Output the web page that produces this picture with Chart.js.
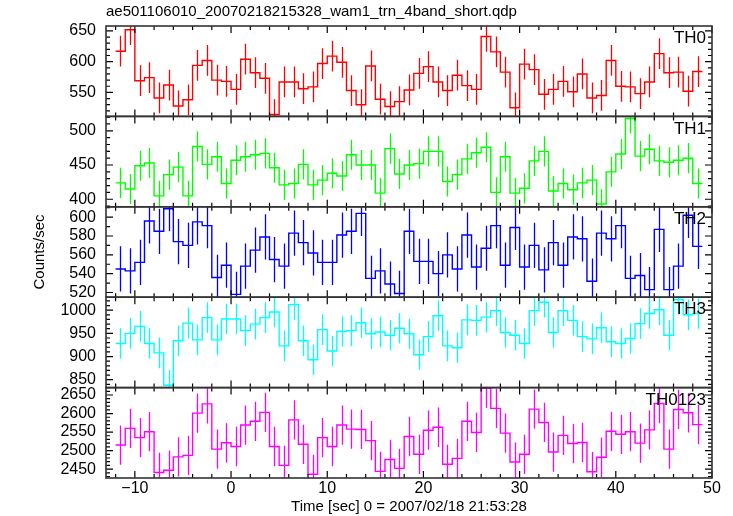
<!DOCTYPE html>
<html>
<head>
<meta charset="utf-8">
<script src="https://cdn.jsdelivr.net/npm/chart.js@4.4.1/dist/chart.umd.min.js"></script>
<style>
  html, body { margin: 0; padding: 0; background: #fff; }
  #wrap { width: 733px; height: 516px; }
</style>
</head>
<body>
<div id="wrap"><canvas id="myChart" width="733" height="516"></canvas></div>
<script>
// === データ (1秒ビンの中心時刻と各バンドのカウントレート) ===
const timeSec = [
  -11.5, -10.5, -9.5, -8.5, -7.5, -6.5, -5.5, -4.5, -3.5, -2.5, -1.5, -0.5,
  0.5, 1.5, 2.5, 3.5, 4.5, 5.5, 6.5, 7.5, 8.5, 9.5, 10.5, 11.5, 12.5, 13.5,
  14.5, 15.5, 16.5, 17.5, 18.5, 19.5, 20.5, 21.5, 22.5, 23.5, 24.5, 25.5,
  26.5, 27.5, 28.5, 29.5, 30.5, 31.5, 32.5, 33.5, 34.5, 35.5, 36.5, 37.5,
  38.5, 39.5, 40.5, 41.5, 42.5, 43.5, 44.5, 45.5, 46.5, 47.5, 48.5
];
const th0 = [
  617, 652, 569, 574, 541, 562, 528, 538, 594, 602, 570, 568, 555, 604, 582, 573,
  514, 567, 567, 556, 559, 597, 609, 599, 553, 530, 593, 539, 527, 535, 554, 581,
  592, 567, 553, 578, 561, 555, 641, 616, 583, 525, 596, 587, 547, 555, 568, 551,
  580, 541, 545, 602, 560, 559, 548, 567, 613, 582, 583, 552, 584
];
const th1 = [
  424, 415, 449, 453, 405, 436, 447, 405, 477, 451, 462, 423, 457, 462, 465, 467,
  446, 421, 423, 451, 421, 428, 438, 434, 465, 450, 450, 409, 474, 437, 450, 452,
  470, 470, 426, 436, 459, 468, 476, 410, 462, 409, 416, 456, 470, 412, 423, 414,
  424, 428, 393, 440, 466, 518, 463, 473, 456, 454, 457, 460, 423
];
const th2 = [
  545, 543, 552, 596, 585, 609, 574, 570, 595, 591, 536, 549, 518, 548, 565, 579,
  555, 548, 583, 573, 562, 552, 552, 581, 585, 604, 535, 543, 529, 519, 585, 553,
  553, 540, 560, 545, 581, 547, 567, 591, 549, 589, 547, 570, 544, 573, 549, 579,
  577, 532, 583, 577, 591, 535, 538, 523, 587, 523, 548, 602, 569
];
const th3 = [
  928, 950, 965, 928, 908, 838, 934, 972, 936, 984, 936, 981, 981, 956, 970, 984,
  996, 923, 1012, 934, 893, 958, 912, 954, 956, 973, 949, 953, 946, 961, 949, 904,
  943, 988, 923, 919, 979, 978, 985, 999, 952, 946, 928, 999, 1017, 952, 999, 978,
  943, 938, 962, 932, 928, 939, 971, 993, 1001, 946, 1023, 990, 993
];
const th0123 = [
  2515, 2560, 2535, 2551, 2441, 2447, 2483, 2487, 2601, 2626, 2504, 2521, 2511, 2569, 2579, 2603,
  2511, 2460, 2583, 2517, 2436, 2535, 2511, 2569, 2558, 2557, 2527, 2444, 2476, 2452, 2538, 2490,
  2555, 2563, 2463, 2479, 2579, 2549, 2668, 2614, 2547, 2469, 2490, 2612, 2576, 2496, 2541, 2519,
  2522, 2443, 2482, 2552, 2544, 2551, 2520, 2556, 2627, 2504, 2611, 2602, 2570
];
// 誤差 (±, 各バンドほぼ一定)
const th0Err = 25;
const th1Err = 22;
const th2Err = 24;
const th3Err = 33;
const th0123Err = 53;

// === 目盛り ===
const xTicks = [-10, 0, 10, 20, 30, 40, 50];
const th0Ticks = [550, 600, 650];
const th1Ticks = [400, 450, 500];
const th2Ticks = [520, 540, 560, 580, 600];
const th3Ticks = [850, 900, 950, 1000];
const th0123Ticks = [2450, 2500, 2550, 2600, 2650];

const panelNames = ['TH0', 'TH1', 'TH2', 'TH3', 'TH0123'];
const panelSeries = [th0, th1, th2, th3, th0123];
const panelErrs = [th0Err, th1Err, th2Err, th3Err, th0123Err];
const panelTicks = [th0Ticks, th1Ticks, th2Ticks, th3Ticks, th0123Ticks];
const panelRanges = [[511, 658], [389, 521], [515, 611], [833, 1028], [2426, 2670]];
const panelColors = ['#ff0000', '#00ff00', '#0000ff', '#00ffff', '#ff00ff'];
const axisIds = ['y0', 'y1', 'y2', 'y3', 'y4'];
const HALF_BIN = 0.5;

const FONT = '"Liberation Sans", Arial, Helvetica, sans-serif';

// ビン境界でのステップ用データ
const toSteps = (values) => {
    const pts = timeSec.map((t, i) => ({ x: t - HALF_BIN, y: values[i] }));
    const last = timeSec.length - 1;
    pts.push({ x: timeSec[last] + HALF_BIN, y: values[last] });
    return pts;
};

/**
 * パネル枠・内向き目盛り・ラベル・誤差棒を描く
 */
const qdpPanels = {
    id: 'qdpPanels',
    beforeDatasetDraw(chart, args) {
        const ds = chart.data.datasets[args.index];
        const ys = chart.scales[ds.yAxisID];
        const { left, right } = chart.chartArea;
        const ctx = chart.ctx;
        ctx.save();
        ctx.beginPath();
        ctx.rect(left, ys.top, right - left, ys.bottom - ys.top);
        ctx.clip();
    },
    afterDatasetDraw(chart, args) {
        const ds = chart.data.datasets[args.index];
        const ys = chart.scales[ds.yAxisID];
        const xs = chart.scales.x;
        const ctx = chart.ctx;
        ctx.strokeStyle = ds.borderColor;
        ctx.lineWidth = 1.3;
        ctx.beginPath();
        timeSec.forEach((t, i) => {
            const x = Math.round(xs.getPixelForValue(t)) + 0.5;
            ctx.moveTo(x, ys.getPixelForValue(ds.values[i] - ds.err));
            ctx.lineTo(x, ys.getPixelForValue(ds.values[i] + ds.err));
        });
        ctx.stroke();
        ctx.restore();
    },
    afterDraw(chart) {
        const ctx = chart.ctx;
        const { left, right } = chart.chartArea;
        const xs = chart.scales.x;
        axisIds.forEach((id, p) => {
            const ys = chart.scales[id];
            const top = ys.top;
            const bottom = ys.bottom;
            ctx.save();
            ctx.strokeStyle = '#000';
            ctx.lineWidth = 1.2;
            ctx.beginPath();
            for (let t = -12; t <= 50; t += 2) {
                const x = xs.getPixelForValue(t);
                const len = t % 10 === 0 ? 7 : 4;
                ctx.moveTo(x, bottom); ctx.lineTo(x, bottom - len);
                ctx.moveTo(x, top); ctx.lineTo(x, top + len);
            }
            const major = panelTicks[p][1] - panelTicks[p][0];
            for (let v = Math.ceil(ys.min / 10) * 10; v <= ys.max; v += 10) {
                const y = ys.getPixelForValue(v);
                const len = v % major === 0 ? 7 : 4;
                ctx.moveTo(left, y); ctx.lineTo(left + len, y);
                ctx.moveTo(right, y); ctx.lineTo(right - len, y);
            }
            ctx.stroke();
            ctx.strokeStyle = '#333';
            ctx.lineWidth = 1.6;
            ctx.strokeRect(left, top, right - left, bottom - top);
            ctx.fillStyle = '#000';
            ctx.font = '17px ' + FONT;
            ctx.textAlign = 'right';
            ctx.textBaseline = 'top';
            ctx.fillText(panelNames[p], right - 6, top + 4);
            ctx.restore();
        });
    }
};

const yScale = (p) => ({
    type: 'linear',
    position: 'left',
    stack: 'panels',
    stackWeight: 1,
    min: panelRanges[p][0],
    max: panelRanges[p][1],
    grid: { display: false, drawTicks: false },
    border: { display: false },
    ticks: {
        color: '#000',
        font: { size: 16, family: FONT },
        padding: 10,
        autoSkip: false,
        callback: (v) => String(v)
    },
    title: {
        display: p === 2,
        text: 'Counts/sec',
        color: '#000',
        font: { size: 15, family: FONT },
        padding: { top: 31, bottom: 0 }
    },
    afterBuildTicks: (scale) => {
        scale.ticks = panelTicks[p].map(v => ({ value: v }));
    },
    afterFit: (scale) => {
        scale.width = 106;
    }
});

const scales = {
    x: {
        type: 'linear',
        position: 'bottom',
        min: -13,
        max: 50,
        grid: { display: false, drawTicks: false },
        border: { display: false },
        ticks: {
            color: '#000',
            font: { size: 16, family: FONT },
            padding: 1,
            maxRotation: 0,
            autoSkip: false,
            callback: (v) => (v < 0 ? '\u2212' + Math.abs(v) : String(v))
        },
        title: {
            display: true,
            text: 'Time [sec] 0 = 2007/02/18 21:53:28',
            color: '#000',
            font: { size: 15, family: FONT },
            padding: { top: 0, bottom: 0 }
        },
        afterBuildTicks: (scale) => {
            scale.ticks = xTicks.map(v => ({ value: v }));
        },
        afterFit: (scale) => {
            scale.height = 38;
        }
    }
};
// 下から順に積むので逆順で定義
[4, 3, 2, 1, 0].forEach(p => { scales[axisIds[p]] = yScale(p); });

const ctx = document.getElementById('myChart').getContext('2d');
const myChart = new Chart(ctx, {
    type: 'line',
    data: {
        datasets: panelSeries.map((values, p) => ({
            label: panelNames[p],
            data: toSteps(values),
            values: values,
            err: panelErrs[p],
            yAxisID: axisIds[p],
            borderColor: panelColors[p],
            borderWidth: 1.4,
            pointRadius: 0,
            fill: false,
            stepped: 'before',
            tension: 0
        }))
    },
    options: {
        responsive: false,
        devicePixelRatio: 1,
        animation: false,
        events: [],
        layout: { padding: { left: 0, right: 21, top: 0, bottom: 0 } },
        plugins: {
            legend: { display: false },
            tooltip: { enabled: false },
            title: {
                display: true,
                text: 'ae501106010_20070218215328_wam1_trn_4band_short.qdp',
                align: 'start',
                fullSize: false,
                color: '#000',
                font: { size: 15, weight: 'normal', family: FONT },
                padding: { top: 3, bottom: 5 }
            }
        },
        scales: scales
    },
    plugins: [qdpPanels]
});
</script>
</body>
</html>
